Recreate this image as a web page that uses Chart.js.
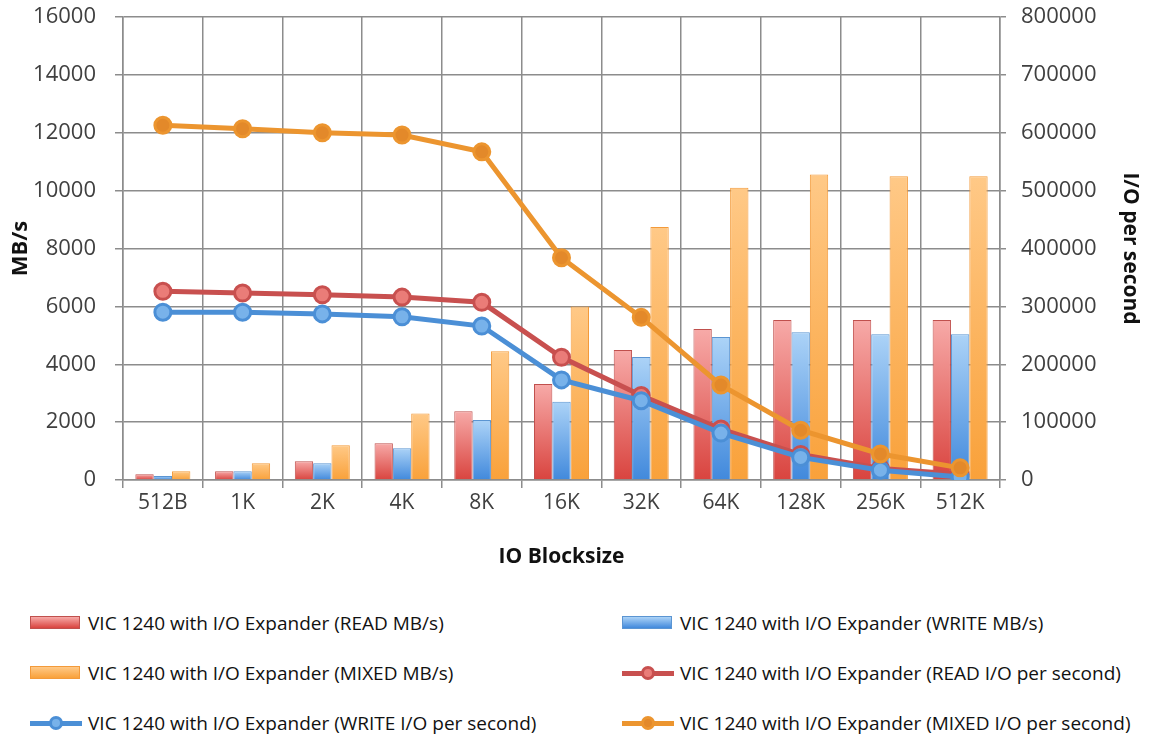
<!DOCTYPE html>
<html>
<head>
<meta charset="utf-8">
<script src="https://cdn.jsdelivr.net/npm/chart.js@4.4.0/dist/chart.umd.min.js"></script>
<style>
    body { margin: 0; background: #fff; font-family: "Open Sans", sans-serif; }
    #wrap { position: relative; width: 1151px; height: 737px; }
    #chartBox { position: absolute; left: 0; top: 0; width: 1151px; height: 590px; }
    #legend { position: absolute; left: 0; top: 598px; width: 1151px; height: 139px; }
    .item { position: absolute; height: 50px; display: flex; align-items: center; font-size: 19px; color: #111; white-space: nowrap; }
    .swatch { position: relative; width: 52px; height: 16px; margin-right: 6px; }
    .swatch .box { position: absolute; left: 0; top: 1px; width: 50px; height: 13px; box-sizing: border-box; border: 1px solid; }
    .swatch .ln { position: absolute; left: 0; top: 6px; width: 52px; height: 5px; }
    .swatch .dot { position: absolute; left: 19px; top: 1px; width: 14px; height: 14px; border-radius: 50%; box-sizing: border-box; border: 3px solid; }
</style>
</head>
<body>
<div id="wrap">
    <div id="chartBox"><canvas id="ioChart"></canvas></div>
    <div id="legend"></div>
</div>

<script>
const blockSizes = ["512B", "1K", "2K", "4K", "8K", "16K", "32K", "64K", "128K", "256K", "512K"];

// MB/s (left axis)
const readMB  = [200, 300, 650, 1270, 2380, 3320, 4490, 5220, 5530, 5530, 5530];
const writeMB = [140, 300, 580, 1100, 2070, 2700, 4250, 4940, 5110, 5040, 5040];
const mixedMB = [300, 580, 1200, 2300, 4450, 6000, 8740, 10100, 10560, 10500, 10500];

// I/O per second (right axis)
const readIO  = [326000, 323000, 320000, 316000, 307000, 212000, 146000, 88000, 44000, 20000, 10000];
const writeIO = [290000, 290000, 287000, 282000, 266000, 173000, 137000, 81000, 39000, 17000, 5000];
const mixedIO = [613000, 607000, 600000, 596000, 567000, 384000, 281000, 164000, 86000, 45000, 21000];

const mbTicks = { min: 0, max: 16000, step: 2000 };
const ioTicks = { min: 0, max: 800000, step: 100000 };

const NAME = "VIC 1240 with I/O Expander";
const GRID = "#8c8c8c";
const TICK_COLOR = "#404040";

// vertical gradient per bar, light at the top
function barFill(top, bottom) {
    return ctx => {
        const chart = ctx.chart;
        if (!chart.chartArea || ctx.type !== "data") return bottom;
        const y = chart.scales.y;
        const g = chart.ctx.createLinearGradient(0, y.getPixelForValue(ctx.raw), 0, y.getPixelForValue(0));
        g.addColorStop(0, top);
        g.addColorStop(1, bottom);
        return g;
    };
}

const barColors = {
    read:  { top: "#f7aaa8", bottom: "#d9443f", border: "#c0504d" },
    write: { top: "#acd3f7", bottom: "#4189dc", border: "#5b95d2" },
    mixed: { top: "#ffc987", bottom: "#f9a13a", border: "#f39a3a" }
};
const lineColors = {
    read:  { line: "#c8504f", fill: "#ea7c78" },
    write: { line: "#4b8fd6", fill: "#78b2ea" },
    mixed: { line: "#ec952f", fill: "#e3892a" }
};

function barSet(label, data, c) {
    return {
        type: "bar",
        label: label,
        data: data,
        yAxisID: "y",
        order: 10,
        backgroundColor: barFill(c.top, c.bottom),
        borderColor: c.border,
        borderWidth: 1,
        legendKind: "bar",
        legendColors: c
    };
}

function lineSet(label, data, c, order) {
    return {
        type: "line",
        label: label,
        data: data,
        yAxisID: "y1",
        order: order,
        borderColor: c.line,
        borderWidth: 5,
        pointRadius: 8,
        pointBorderWidth: 3,
        pointBackgroundColor: c.fill,
        pointBorderColor: c.line,
        tension: 0,
        legendKind: "line",
        legendColors: c
    };
}

const plain = v => String(v);

// fixed side widths, and no extra top/bottom padding from the tick labels
const fitSide = w => s => { s.width = w; s.paddingTop = 0; s.paddingBottom = 0; };

const ioChart = new Chart(document.getElementById("ioChart"), {
    data: {
        labels: blockSizes,
        datasets: [
            barSet(NAME + " (READ MB/s)", readMB, barColors.read),
            barSet(NAME + " (WRITE MB/s)", writeMB, barColors.write),
            barSet(NAME + " (MIXED MB/s)", mixedMB, barColors.mixed),
            lineSet(NAME + " (READ I/O per second)", readIO, lineColors.read, 3),
            lineSet(NAME + " (WRITE I/O per second)", writeIO, lineColors.write, 2),
            lineSet(NAME + " (MIXED I/O per second)", mixedIO, lineColors.mixed, 1)
        ]
    },
    options: {
        responsive: true,
        maintainAspectRatio: false,
        animation: false,
        layout: { padding: { top: 17, left: 0, right: 0, bottom: 0 } },
        plugins: {
            legend: { display: false },
            tooltip: { enabled: false }
        },
        datasets: {
            bar: { categoryPercentage: 0.69, barPercentage: 1.0 }
        },
        scales: {
            x: {
                offset: true,
                grid: { offset: true, color: GRID, lineWidth: 1.5, tickLength: 8 },
                border: { color: GRID, width: 1.5 },
                ticks: { color: TICK_COLOR, font: { family: "Open Sans", size: 21 }, padding: 2, maxRotation: 0 },
                title: {
                    display: true,
                    text: "IO Blocksize",
                    color: "#111",
                    font: { family: "Open Sans", size: 21, weight: "bold" },
                    padding: { top: 0, bottom: 20 }
                },
                afterFit: s => { s.height = 110; }
            },
            y: {
                position: "left",
                min: mbTicks.min,
                max: mbTicks.max,
                grid: { color: GRID, lineWidth: 1.5, tickLength: 8 },
                border: { color: GRID, width: 1.5 },
                ticks: { stepSize: mbTicks.step, callback: plain, color: TICK_COLOR, font: { family: "Open Sans", size: 22 }, padding: 19 },
                title: {
                    display: true,
                    text: "MB/s",
                    color: "#111",
                    font: { family: "Open Sans", size: 22, weight: "bold" },
                    padding: { top: 8, bottom: 0 }
                },
                afterFit: fitSide(123)
            },
            y1: {
                position: "right",
                min: ioTicks.min,
                max: ioTicks.max,
                grid: { drawOnChartArea: false, color: GRID, lineWidth: 1.5, tickLength: 6 },
                border: { color: GRID, width: 1.5 },
                ticks: { stepSize: ioTicks.step, callback: plain, color: TICK_COLOR, font: { family: "Open Sans", size: 22 }, padding: 15 },
                title: {
                    display: true,
                    text: "I/O per second",
                    color: "#111",
                    font: { family: "Open Sans", size: 21, weight: "bold" },
                    padding: { top: 8, bottom: 0 }
                },
                afterFit: fitSide(151)
            }
        }
    }
});

function buildLegend(chart) {
    const box = document.getElementById("legend");
    box.innerHTML = "";
    chart.data.datasets.forEach((ds, i) => {
        const col = i % 2;
        const row = Math.floor(i / 2);
        const c = ds.legendColors;
        let sw;
        if (ds.legendKind === "bar") {
            sw = `<div class="swatch"><div class="box" style="background:linear-gradient(${c.top},${c.bottom});border-color:${c.border}"></div></div>`;
        } else {
            sw = `<div class="swatch"><div class="ln" style="background:${c.line}"></div>
                  <div class="dot" style="background:${c.fill};border-color:${c.line}"></div></div>`;
        }
        box.innerHTML += `<div class="item" style="left:${col ? 622 : 30}px;top:${row * 50}px">${sw}<span>${ds.label}</span></div>`;
    });
}

buildLegend(ioChart);
</script>
</body>
</html>
